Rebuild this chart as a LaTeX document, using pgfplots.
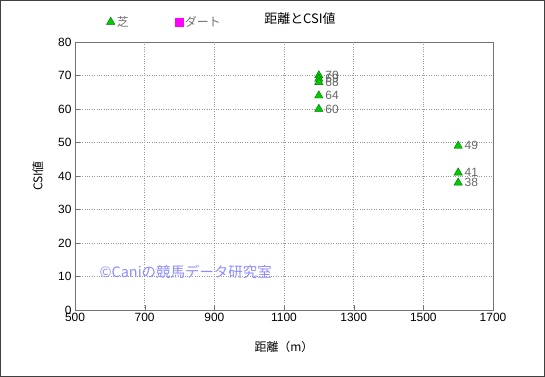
\documentclass[border=0pt]{standalone}
\usepackage{pgfplots}
\pgfplotsset{compat=1.18}
\usepackage{fontspec}
\setmainfont{Liberation Sans}
\newfontfamily\cjk{Noto Sans CJK JP}
\definecolor{shiba}{RGB}{0,204,0}
\definecolor{shibaedge}{RGB}{0,110,0}
\definecolor{dirt}{RGB}{255,0,255}
\definecolor{wm}{RGB}{140,140,255}
\begin{document}
\begin{tikzpicture}
\draw[color=black!75, line width=1.2bp] (0.6bp,0.6bp) rectangle (544.4bp,376.4bp);
\begin{axis}[
  at={(75bp,67bp)}, anchor=south west,
  scale only axis, width=418bp, height=268bp,
  xmin=500, xmax=1700, ymin=0, ymax=80,
  xtick={500,700,...,1700}, ytick={0,10,...,80},
  grid=major,
  grid style={dotted, color=black!40, line width=0.6bp},
  axis line style={color=black!55},
  tick style={color=black!55},
  tick align=inside, tick pos=left,
  major tick length=5bp,
  ticklabel style={font=\fontsize{12}{14}\selectfont},
  /pgf/number format/assume math mode=true,
  /pgf/number format/1000 sep={},
  xlabel={\cjk 距離（m）}, ylabel={\cjk CSI値},
  label style={font=\cjk\fontsize{12}{14}\selectfont},
  xlabel style={yshift=-12bp},
  ylabel style={yshift=8bp},
  legend style={at={(0.075,1.075)}, anchor=west, draw=none, fill=none,
    font=\cjk\fontsize{12}{14}\selectfont\color{black!55},
    legend columns=2, /tikz/every even column/.append style={column sep=44bp},
    inner sep=0pt},
  legend image code/.code={\draw[#1] plot coordinates {(0bp,0bp)};},
  clip=false,
]
\addplot[only marks, mark=triangle*, mark size=4.8bp,
  mark options={fill=shiba, draw=shibaedge, line width=0.4bp},
  nodes near coords, point meta=explicit symbolic,
  every node near coord/.append style={anchor=west, xshift=3bp, text=black!60,
    font=\fontsize{12}{14}\selectfont}]
  table[meta=l] {
x y l
1200 70 70
1200 69 69
1200 68 68
1200 64 64
1200 60 60
1600 49 49
1600 41 41
1600 38 38
};
\addlegendentry{芝}
\addlegendimage{only marks, mark=square*, mark size=4bp, mark options={fill=dirt, draw=dirt}}
\addlegendentry{ダート}
\node[anchor=west, text=wm, font=\cjk\fontsize{14.5}{16}\selectfont, inner sep=0pt] at (axis cs:570,11.3) {©Caniの競馬データ研究室};
\end{axis}
\node[font=\cjk\fontsize{13}{15}\selectfont] at (300bp,358bp) {距離とCSI値};
\end{tikzpicture}
\end{document}
